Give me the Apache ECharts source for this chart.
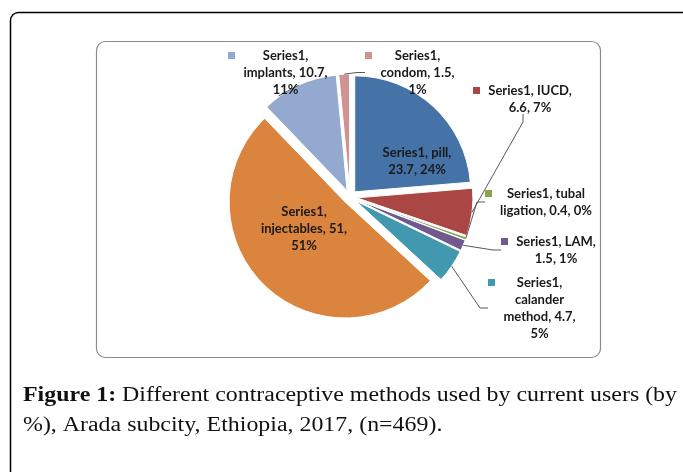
<!DOCTYPE html>
<html>
<head>
<meta charset="utf-8">
<script src="https://cdn.jsdelivr.net/npm/echarts@6/dist/echarts.min.js"></script>
<style>
  html, body { margin: 0; padding: 0; background: #fff; }
  #chart { width: 683px; height: 472px; }
</style>
</head>
<body>
<div id="chart"></div>
<script>
// data
const seriesName = 'Series1';
const methods = ['pill', 'IUCD', 'tubal ligation', 'LAM', 'calander method', 'injectables', 'implants', 'condom'];
const values = [23.7, 6.6, 0.4, 1.5, 4.7, 51, 10.7, 1.5];
const captionBold = 'Figure 1:';
const captionLines = [
    ' Different contraceptive methods used by current users (by',
    '%), Arada subcity, Ethiopia, 2017, (n=469).'
];

// styling / layout
const sliceColors = ['#4572A7', '#AA4643', '#89A54E', '#71588F', '#4198AF', '#DB843D', '#93A9CF', '#D19392'];
const labelFont = 'Lato';
const labelSize = 13;
const captionFont = 'Liberation Serif';
const captionSize = 20;
const captionWidth = 654;
// [x, y, wrapWidth, inside]  (outside: left/top of block, inside: centre)
const labelPos = [
    [417, 161, 86, true],
    [473, 82, 95, false],
    [485, 185, 108, false],
    [501, 233, 89, false],
    [488, 274, 84, false],
    [304, 229, 104, true],
    [228, 47, 99, false],
    [365, 47, 89, false]
];

const measureCtx = document.createElement('canvas').getContext('2d');

function textWidth(str, font) {
    measureCtx.font = font;
    return measureCtx.measureText(str).width;
}

const labelFontCss = 'bold ' + labelSize + 'px ' + labelFont;

function wrapWords(text, maxW) {
    const words = text.split(' ');
    const lines = [];
    let cur = '';
    words.forEach(w => {
        const test = cur ? cur + ' ' + w : w;
        if (cur && textWidth(test, labelFontCss) > maxW) {
            lines.push(cur);
            cur = w;
        } else {
            cur = test;
        }
    });
    if (cur) lines.push(cur);
    return lines;
}

const total = values.reduce((a, b) => a + b, 0);

// exploded slices, no labels
const sliceData = methods.map((m, i) => ({
    name: m,
    value: values[i],
    selected: true,
    itemStyle: { color: sliceColors[i] }
}));

// transparent twin that carries the data labels
const labelData = methods.map((m, i) => {
    const pct = Math.round(values[i] / total * 100);
    const full = seriesName + ', ' + m + ', ' + values[i] + ', ' + pct + '%';
    const lines = wrapWords(full, labelPos[i][2]);
    const inside = labelPos[i][3];
    const textW = Math.ceil(Math.max(...lines.map(l => textWidth(l, labelFontCss)))) + 2;
    let str;
    if (inside) {
        str = lines.map(l => '{t|' + l + '}').join('\n');
    } else {
        str = lines.map((l, j) => (j === 0 ? '{k|}{g|}' : '{s|}') + '{t|' + l + '}').join('\n');
    }
    return {
        name: m,
        value: values[i],
        label: {
            formatter: str,
            rich: {
                k: { width: 7, height: 7, backgroundColor: sliceColors[i], verticalAlign: 'middle' },
                g: { width: 7 },
                s: { width: 14 },
                t: {
                    width: textW, align: 'center', lineHeight: 17,
                    fontFamily: labelFont, fontSize: labelSize, fontWeight: 'bold', color: '#1a1a1a'
                }
            }
        },
        labelLine: { show: !inside }
    };
});

// caption: measure to stretch the serif text to the reference width
const capW = textWidth(captionBold, 'bold ' + captionSize + 'px ' + captionFont) +
    textWidth(captionLines[0], captionSize + 'px ' + captionFont);
const capScale = captionWidth / capW;

const chart = echarts.init(document.getElementById('chart'), null, { renderer: 'canvas' });

chart.setOption({
    animation: false,
    backgroundColor: '#fff',
    graphic: [
        {
            type: 'rect', z: -1,
            shape: { x: 10.5, y: 12.5, width: 680, height: 480, r: 8 },
            style: { fill: 'none', stroke: '#000', lineWidth: 1.5 }
        },
        {
            type: 'rect', z: -1,
            shape: { x: 96.5, y: 41.5, width: 504, height: 316, r: 9 },
            style: { fill: '#fff', stroke: '#8c8c8c', lineWidth: 1.2 }
        },
        {
            type: 'text',
            x: 23, y: 381,
            scaleX: capScale,
            style: {
                text: '{b|' + captionBold + '}{r|' + captionLines[0] + '}\n{r|' + captionLines[1] + '}',
                verticalAlign: 'top',
                align: 'left',
                rich: {
                    b: { fontFamily: captionFont, fontSize: captionSize, fontWeight: 'bold', fill: '#111', lineHeight: 30 },
                    r: { fontFamily: captionFont, fontSize: captionSize, fontWeight: 'normal', fill: '#111', lineHeight: 30 }
                }
            }
        }
    ],
    series: [
        {
            type: 'pie',
            name: seriesName,
            center: [350, 197],
            radius: 116,
            startAngle: 90,
            clockwise: true,
            selectedMode: 'multiple',
            selectedOffset: 7,
            silent: true,
            itemStyle: { borderColor: '#fff', borderWidth: 1 },
            select: { itemStyle: { borderColor: '#fff', borderWidth: 1 } },
            label: { show: false },
            labelLine: { show: false },
            data: sliceData
        },
        {
            type: 'pie',
            name: seriesName,
            center: [350, 197],
            radius: 123,
            startAngle: 90,
            clockwise: true,
            silent: true,
            z: 3,
            avoidLabelOverlap: false,
            itemStyle: { color: 'transparent', borderWidth: 0 },
            label: { show: true, position: 'outside' },
            labelLine: {
                show: true, length: 10, length2: 8, smooth: false,
                lineStyle: { color: '#595959', width: 1 }
            },
            labelLayout: function (params) {
                const p = labelPos[params.dataIndex];
                if (p[3]) {
                    return { x: p[0], y: p[1], align: 'center', verticalAlign: 'middle' };
                }
                return { x: p[0], y: p[1], align: 'left', verticalAlign: 'top' };
            },
            data: labelData
        }
    ]
});
</script>
</body>
</html>
